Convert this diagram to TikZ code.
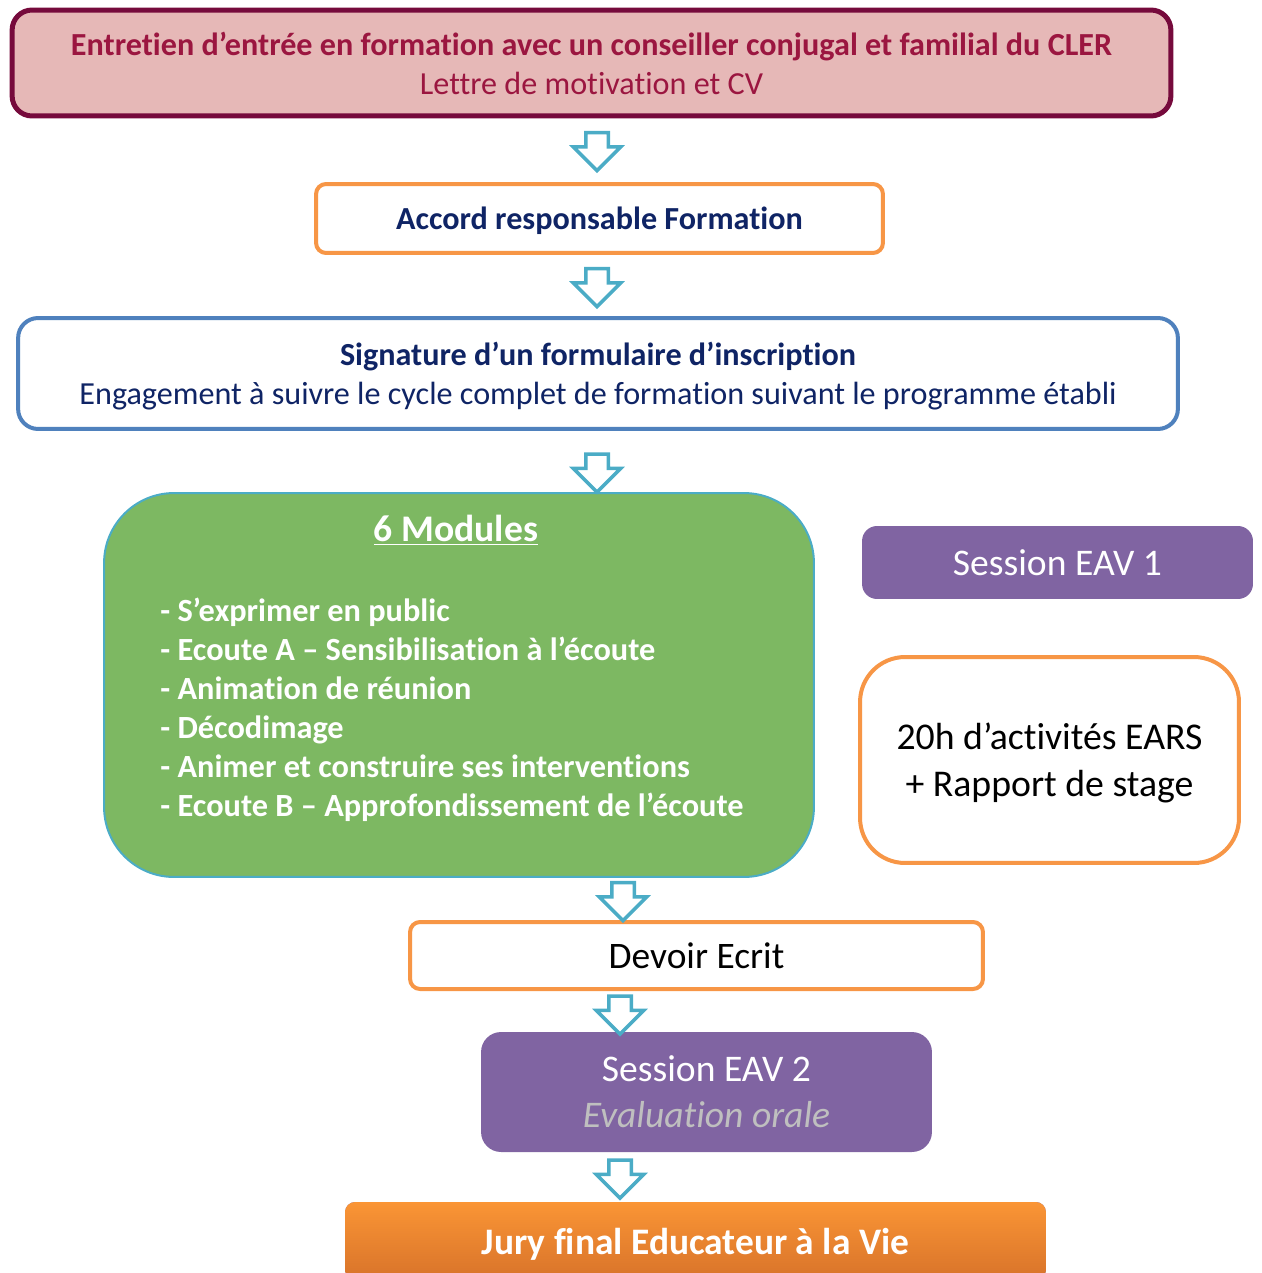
\documentclass[tikz,border=0pt]{standalone}
\usepackage{fontspec}
\setmainfont{Carlito}[Ligatures=NoCommon]
\usepackage{tikz}
\usetikzlibrary{shapes,arrows}
\definecolor{bordeaux}{HTML}{760A3C}
\definecolor{rose}{HTML}{E6B8B7}
\definecolor{cramoisi}{HTML}{9B1640}
\definecolor{marine}{HTML}{0F2465}
\definecolor{orangec}{HTML}{F79646}
\definecolor{bleuc}{HTML}{4F81BD}
\definecolor{bleuf}{HTML}{4BACC6}
\definecolor{vert}{HTML}{7DB862}
\definecolor{violet}{HTML}{8064A2}
\definecolor{grisc}{HTML}{BFBFBF}
\definecolor{juryhaut}{HTML}{FA9535}
\definecolor{jurybas}{HTML}{D8732A}
\tikzstyle{blocke} = [rectangle, draw=bordeaux, fill=rose, line width=0.1cm,
    rounded corners=0.4cm, text=cramoisi, align=center, text depth=0pt,
    font=\fontsize{18.3}{22.2}\selectfont]
\tikzstyle{blocko} = [rectangle, draw=orangec, fill=white, line width=0.08cm,
    rounded corners=0.2cm, align=center, text depth=0pt]
\tikzstyle{blockb} = [rectangle, draw=bleuc, fill=white, line width=0.08cm,
    rounded corners=0.4cm, text=marine, align=center, text depth=0pt,
    font=\fontsize{18.3}{22.2}\selectfont]
\tikzstyle{blockv} = [rectangle, draw=bleuf, fill=vert, line width=0.04cm,
    rounded corners=1.4cm]
\tikzstyle{blockp} = [rectangle, fill=violet, text=white, align=center,
    rounded corners=0.3cm, text depth=0pt]
\tikzstyle{fleche} = [single arrow, draw=bleuf, fill=white, line width=0.07cm,
    shape border rotate=270, inner sep=0.19cm, single arrow head extend=0.25cm,
    minimum height=0.76cm]

\begin{document}
\begin{tikzpicture}[x=0.02cm, y=-0.02cm]
    \useasboundingbox (0,0) rectangle (1261,1273);
    \clip (0,0) rectangle (1261,1273);
    % Place nodes
    \node [blocke, minimum width=23.18cm, minimum height=2.12cm] (entree)
    at (591.5,63) {\textbf{Entretien d’entrée en formation avec un conseiller
    conjugal et familial du CLER}\\Lettre de motivation et CV};
    \node [blocko, minimum width=11.34cm, minimum height=1.38cm, text=marine,
    font=\fontsize{18.3}{22}\selectfont\bfseries] (accord) at (599.5,218.5)
    {Accord responsable Formation};
    \node [blockb, minimum width=23.2cm, minimum height=2.22cm] (signature)
    at (598,373.5) {\textbf{Signature d’un formulaire d’inscription}\\
    Engagement à suivre le cycle complet de formation suivant le programme
    établi};
    \node [blockv, minimum width=14.2cm, minimum height=7.68cm] (modules)
    at (459,685) {};
    \node [text=white, font=\fontsize{21.4}{25}\selectfont\bfseries]
    (titremod) at (456,530) {\underline{6 Modules}};
    \node [text=white, anchor=west, align=left, inner sep=0pt,
    font=\fontsize{18.4}{22.2}\selectfont\bfseries] (listemod) at (160,710)
    {- S’exprimer en public\\
     - Ecoute A – Sensibilisation à l’écoute\\
     - Animation de réunion\\
     - Décodimage\\
     - Animer et construire ses interventions\\
     - Ecoute B – Approfondissement de l’écoute};
    \node [blockp, minimum width=7.82cm, minimum height=1.46cm,
    font=\fontsize{21.4}{25}\selectfont] (eav1) at (1057.5,562.5)
    {Session EAV 1};
    \node [blocko, rounded corners=0.9cm, minimum width=7.58cm,
    minimum height=4.12cm, font=\fontsize{21.5}{26.7}\selectfont] (stage)
    at (1049.5,760) {20h d’activités EARS\\+ Rapport de stage};
    \node [blocko, minimum width=11.46cm, minimum height=1.34cm,
    font=\fontsize{21.3}{24}\selectfont] (devoir) at (696.5,955.5)
    {Devoir Ecrit};
    \node [blockp, rounded corners=0.4cm, minimum width=9.02cm,
    minimum height=2.4cm, font=\fontsize{21.4}{26.2}\selectfont] (eav2)
    at (706.5,1092) {Session EAV 2\\\textcolor{grisc}{\itshape Evaluation orale}};
    \node [blockp, top color=juryhaut, bottom color=jurybas,
    rounded corners=0.2cm, minimum width=14.02cm, minimum height=1.56cm,
    font=\fontsize{21.3}{24}\selectfont\bfseries] (jury) at (695.5,1241)
    {Jury final Educateur à la Vie};

    % Draw arrows
    \node [fleche] (f1) at (597,146) {};
    \node [fleche] (f2) at (597,282) {};
    \node [fleche] (f3) at (597,467.5) {};
    \node [fleche] (f4) at (623,896) {};
    \node [fleche] (f5) at (620,1009.5) {};
    \node [fleche] (f6) at (620,1173.5) {};

\end{tikzpicture}
\end{document}
